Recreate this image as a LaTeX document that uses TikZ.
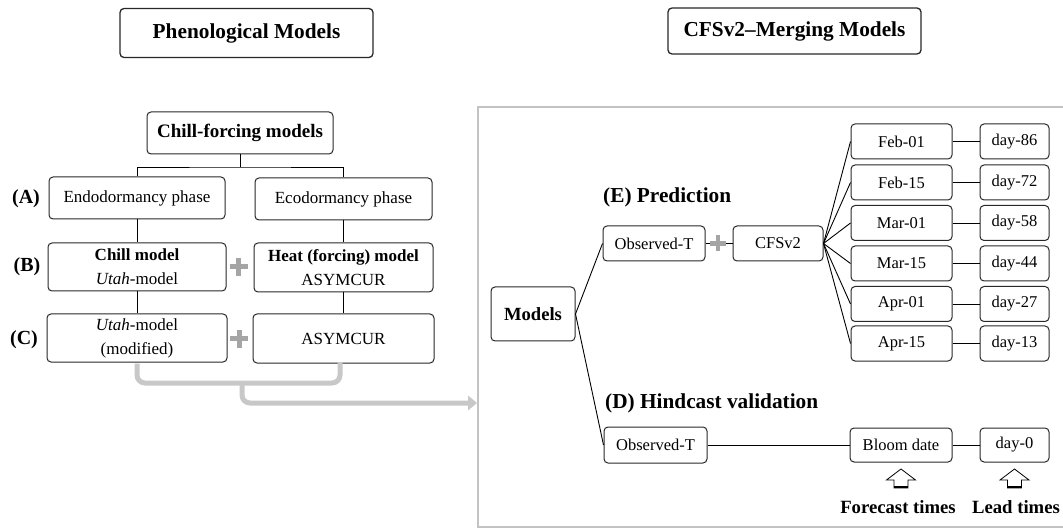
\documentclass[tikz,border=0pt]{standalone}
\usepackage{fontspec}
\setmainfont{Liberation Serif}
\usetikzlibrary{arrows.meta}
\definecolor{boxline}{RGB}{40,40,40}
\definecolor{plusgray}{RGB}{165,165,165}
\definecolor{brgray}{RGB}{200,200,200}
\definecolor{framegray}{RGB}{195,195,195}
\tikzset{
  bx/.style={draw=boxline, line width=1pt, rounded corners=4pt, inner sep=0pt, align=center, fill=white},
  lbox/.style={bx, font=\fontsize{17}{24}\selectfont},
  rbox/.style={bx, font=\fontsize{16.5}{20}\selectfont},
  ttl/.style={bx, line width=1.3pt, font=\bfseries\fontsize{21.3}{24}\selectfont},
  tag/.style={inner sep=0pt, font=\bfseries\fontsize{20}{24}\selectfont},
  sect/.style={inner sep=0pt, font=\bfseries\fontsize{21.3}{24}\selectfont},
  bot/.style={inner sep=0pt, font=\bfseries\fontsize{18.7}{22}\selectfont},
  conn/.style={draw=black, line width=0.9pt},
  plusarm/.style={draw=plusgray, line width=5pt},
  brk/.style={draw=brgray, line width=5pt, rounded corners=8pt},
  blockarrow/.style={draw=black, line width=0.8pt, fill=white},
}
\begin{document}
\begin{tikzpicture}[x=1pt,y=-1pt]
\useasboundingbox (0,0) rectangle (1063,529);
% frame
\draw[framegray, line width=2.5pt] (1075,107) -- (478,107) -- (478,527) -- (1075,527);
% titles
\node[ttl, minimum width=253pt, minimum height=49pt] (phen) at (246.5,33) {Phenological Models};
\node[ttl, minimum width=253pt, minimum height=46pt] (cfsm) at (794.5,31) {CFSv2--Merging Models};
% left tree
\node[lbox, font=\bfseries\fontsize{19}{24}\selectfont, minimum width=186pt, minimum height=42pt] (cf) at (240,133) {Chill-forcing models};
\node[lbox, minimum width=176pt, minimum height=42pt] (endo) at (137,198) {Endodormancy phase};
\node[lbox, minimum width=177pt, minimum height=42pt] (eco) at (343.5,199) {Ecodormancy phase};
\node[lbox, minimum width=178pt, minimum height=48pt] (chill) at (137,267) {\textbf{Chill model}\\\textit{Utah}-model};
\node[lbox, minimum width=179pt, minimum height=49pt] (heat) at (343.5,267.5) {\textbf{Heat (forcing) model}\\ASYMCUR};
\node[lbox, minimum width=180pt, minimum height=48pt] (utah) at (137,338) {\textit{Utah}-model\\(modified)};
\node[lbox, minimum width=181pt, minimum height=49pt] (asym) at (343.5,338.5) {ASYMCUR};
\node[tag] (la) at (26,199) {(A)};
\node[tag] (lb) at (27,267) {(B)};
\node[tag] (lc) at (24,340) {(C)};
\coordinate (cfj) at (240,167);
\draw[conn] (cf.south) -- (cfj);
\draw[conn] (endo.north) |- (cfj) -| (eco.north);
\draw[conn] (endo.south) -- (chill.north);
\draw[conn] (chill.south) -- (utah.north);
\draw[conn] (eco.south) -- (heat.north);
\draw[conn] (heat.south) -- (asym.north);
% plus signs left
\coordinate (p1) at (238.5,267);
\coordinate (p2) at (239,339);
\foreach \p in {p1,p2}{
  \draw[plusarm] ([xshift=-9pt]\p) -- ([xshift=9pt]\p);
  \draw[plusarm] ([yshift=-9pt]\p) -- ([yshift=9pt]\p);
}
% gray bracket and arrow
\coordinate (bl) at (137,383);
\coordinate (br) at (340,383);
\coordinate (bm) at (242,383);
\coordinate (bs) at (242,403);
\coordinate (arrtip) at (477,403);
\draw[brk] ([yshift=-1pt]utah.south) -- (bl) -- (br) -- (340,362);
\draw[brk] (bm) -- (bs) -- (469,403);
\fill[brgray] (arrtip) -- (468,395.5) -- (468,410.5) -- cycle;
% right side
\node[rbox, font=\bfseries\fontsize{18.6}{22}\selectfont, minimum width=84pt, minimum height=54pt] (models) at (533,314) {Models};
\node[rbox, minimum width=102pt, minimum height=35pt] (obsE) at (654,243.5) {Observed-T};
\node[rbox, minimum width=90pt, minimum height=35pt] (cfs) at (778,243.5) {CFSv2};
\node[sect, anchor=base west] (secE) at (603,203) {(E) Prediction};
\node[sect, anchor=base west] (secD) at (605,408) {(D) Hindcast validation};
\foreach \n/\d/\l/\y in {d1/Feb-01/day-86/141.5, d2/Feb-15/day-72/182.5, d3/Mar-01/day-58/223, d4/Mar-15/day-44/263.5, d5/Apr-01/day-27/304, d6/Apr-15/day-13/343.5}{
  \node[rbox, minimum width=101pt, minimum height=35pt] (\n) at (901.5,\y) {\d};
  \node[rbox, minimum width=69pt, minimum height=35pt] (\n l) at (1014.5,\y) {\l};
  \draw[conn] (cfs.east) -- (\n.west);
  \draw[conn] (\n.east) -- (\n l.west);
}
\node[rbox, minimum width=103pt, minimum height=36pt] (obsD) at (655.5,445) {Observed-T};
\node[rbox, minimum width=102pt, minimum height=34pt] (bloom) at (901,445) {Bloom date};
\node[rbox, minimum width=69pt, minimum height=34pt] (day0) at (1014.5,445) {day-0};
\draw[conn] (models.east) -- (obsE.west);
\draw[conn] (models.east) -- (obsD.west);
\draw[conn] (obsD.east) -- (bloom.west);
\draw[conn] (bloom.east) -- (day0.west);
\draw[conn] (obsE.east) -- (cfs.west);
\coordinate (p3) at (718,243.5);
\draw[plusarm, line width=4.5pt] ([xshift=-8pt]p3) -- ([xshift=8pt]p3);
\draw[plusarm, line width=4.5pt] ([yshift=-8pt]p3) -- ([yshift=8pt]p3);
% block arrows
\foreach \c in {901,1014.5}{
  \draw[blockarrow] (\c-14.5,480) -- (\c,469) -- (\c+14.5,480) -- (\c+7,480) -- (\c+7,488) -- (\c-7,488) -- (\c-7,480) -- cycle;
  \draw[line width=2pt] (\c-7,487) -- (\c+7,487);
}
\node[bot] (fct) at (898,507) {Forecast times};
\node[bot] (ldt) at (1016,507) {Lead times};
\end{tikzpicture}
\end{document}
